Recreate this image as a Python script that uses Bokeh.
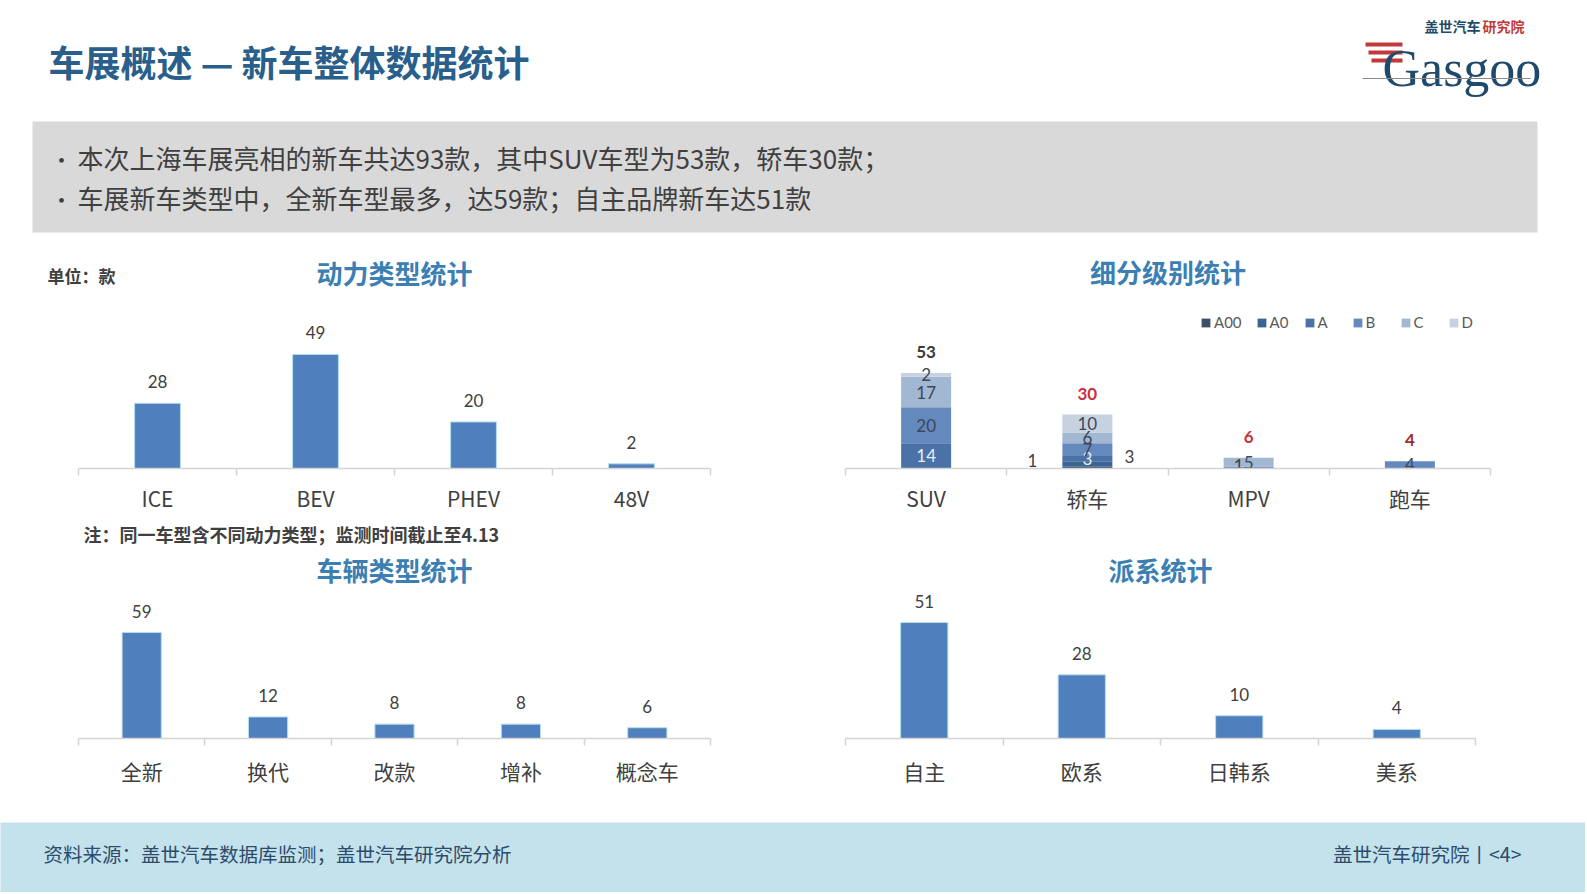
from bokeh.plotting import figure
from bokeh.layouts import column, row
from bokeh.models import (ColumnDataSource, Range1d, LinearAxis, FixedTicker,
                          LabelSet, Legend, LegendItem)
from bokeh.core.properties import value
from bokeh.embed import file_html
from bokeh.resources import INLINE

# ---------------- data ----------------
page_title = "车展概述 — 新车整体数据统计"
bullets = ["本次上海车展亮相的新车共达93款，其中SUV车型为53款，轿车30款；",
           "车展新车类型中，全新车型最多，达59款；自主品牌新车达51款"]
unit_text = "单位：款"
note_text = "注：同一车型含不同动力类型；监测时间截止至4.13"
source_text = "资料来源：盖世汽车数据库监测；盖世汽车研究院分析"
page_text = "盖世汽车研究院丨<4>"

power_title = "动力类型统计"
power_cats = ["ICE", "BEV", "PHEV", "48V"]
power_vals = [28, 49, 20, 2]

vtype_title = "车辆类型统计"
vtype_cats = ["全新", "换代", "改款", "增补", "概念车"]
vtype_vals = [59, 12, 8, 8, 6]

origin_title = "派系统计"
origin_cats = ["自主", "欧系", "日韩系", "美系"]
origin_vals = [51, 28, 10, 4]

seg_title = "细分级别统计"
seg_cats = ["SUV", "轿车", "MPV", "跑车"]
seg_series = ["A00", "A0", "A", "B", "C", "D"]
seg_A00 = [0, 1, 0, 0]
seg_A0 = [0, 3, 0, 0]
seg_A = [14, 3, 0, 0]
seg_B = [20, 7, 1, 4]
seg_C = [17, 6, 5, 0]
seg_D = [2, 10, 0, 0]

# ---------------- style ----------------
CJK = "Noto Sans CJK SC"
NUM = "Lato"
BAR = "#4f7fbc"
BAR_EDGE = "#b5ddef"
AXIS = "#d4d4d4"
TXT = "#404040"
TITLE_C = "#3b7fb3"
seg_colors = ["#3b4f66", "#3a6593", "#4a72a6", "#6489bd", "#a2b7d2", "#c6d2e0"]

LW, RW = 780, 805           # column widths
TL_B, TR_B = (78, 70), (65, 95)
BL_B, BR_B = (78, 70), (65, 110)
H_HEAD, H_ROW1, H_MID, H_ROW2, H_FOOT = 292, 226, 72, 232, 70


def frame_center(col_x, w, borders):
    return col_x + borders[0] + (w - borders[0] - borders[1]) / 2


def slots(cats):
    return [i + 0.5 for i in range(len(cats))]


def canvas(w, h, bg=None):
    p = figure(width=w, height=h, x_range=Range1d(0, w), y_range=Range1d(h, 0),
               x_axis_type=None, y_axis_type=None, output_backend="svg",
               toolbar_location=None, min_border=0)
    p.outline_line_color = None
    p.grid.visible = False
    if bg:
        p.background_fill_color = bg
        p.border_fill_color = bg
    return p


def chart(cats, w, h, y_end, borders, bottom, standoff):
    n = len(cats)
    p = figure(width=w, height=h, x_range=Range1d(0, n), y_range=Range1d(0, y_end),
               x_axis_type=None, y_axis_type=None, output_backend="svg",
               toolbar_location=None, min_border_left=borders[0],
               min_border_right=borders[1], min_border_top=0,
               min_border_bottom=bottom)
    p.outline_line_color = None
    p.grid.visible = False
    centers = slots(cats)
    ax = LinearAxis(ticker=FixedTicker(ticks=centers, minor_ticks=list(range(n + 1))),
                    major_label_overrides={c: lab for c, lab in zip(centers, cats)},
                    axis_line_color=AXIS, axis_line_width=1.5,
                    major_tick_line_color=None, major_tick_out=0, major_tick_in=0,
                    minor_tick_line_color=AXIS, minor_tick_out=7, minor_tick_in=0,
                    minor_tick_line_width=1.5,
                    major_label_standoff=standoff,
                    major_label_text_font=CJK, major_label_text_font_size="21px",
                    major_label_text_color=TXT)
    p.add_layout(ax, "below")
    return p


def simple_bars(p, cats, vals, width):
    src = ColumnDataSource(dict(pos=slots(cats), val=vals, txt=[str(v) for v in vals]))
    p.vbar(x="pos", top="val", width=width, source=src, fill_color=BAR,
           line_color=BAR_EDGE, line_width=1)
    p.add_layout(LabelSet(x="pos", y="val", text="txt", source=src,
                          text_align="center", text_baseline="bottom", y_offset=15,
                          text_font=value(NUM), text_font_size="17px", text_color=TXT))


def chart_title(p, x, y, txt):
    p.text(x=[x], y=[y], text=[txt], text_font=value(CJK), text_font_size="26px",
           text_font_style="bold", text_color=TITLE_C, text_align="center",
           text_baseline="middle")


# ---------------- header (incl. top chart titles) ----------------
header = canvas(LW + RW, H_HEAD)
header.text(x=[48], y=[60], text=[page_title], text_font=value(CJK),
            text_font_size="36px", text_font_style="bold", text_color="#2a5f8c",
            text_baseline="middle")
header.quad(left=[32], right=[1537], top=[121], bottom=[232], fill_color="#d9d9d9",
            line_color=None)
header.text(x=[50, 50], y=[157, 197], text=["•", "•"], text_font=value(CJK),
            text_font_size="22px", text_color=TXT, text_baseline="middle")
header.text(x=[77, 77], y=[157, 197], text=bullets, text_font=value(CJK),
            text_font_size="26px", text_color=TXT, text_baseline="middle")
# logo
header.quad(left=[1365, 1368, 1371], right=[1402, 1402, 1402], top=[42, 50, 58],
            bottom=[46, 54, 62], fill_color="#c0393b", line_color=None)
header.text(x=[1382], y=[68], text=["Gasgoo"], text_font=value("Liberation Serif"),
            text_font_size="52px", text_color="#1f4a6b", text_baseline="alphabetic")
header.text(x=[1424], y=[25], text=["盖世汽车"], text_font=value(CJK),
            text_font_size="14px", text_font_style="bold", text_color="#1f4a6b",
            text_baseline="middle")
header.text(x=[1482], y=[25], text=["研究院"], text_font=value(CJK),
            text_font_size="14px", text_font_style="bold", text_color="#c0393b",
            text_baseline="middle")
header.segment(x0=[1362], x1=[1530], y0=[78], y1=[78], line_color="#8a8a8a",
               line_width=1)
header.text(x=[47], y=[275], text=[unit_text], text_font=value(CJK),
            text_font_size="17px", text_font_style="bold", text_color=TXT,
            text_baseline="middle")
chart_title(header, frame_center(0, LW, TL_B), 272, power_title)
chart_title(header, frame_center(LW, RW, TR_B), 271, seg_title)

# ---------------- top-left: power types ----------------
tl = chart(power_cats, LW, H_ROW1, 75.6, TL_B, 50, 7)
simple_bars(tl, power_cats, power_vals, 0.29)

# ---------------- top-right: segments (stacked) ----------------
tr = chart(seg_cats, RW, H_ROW1, 97.8, TR_B, 50, 7)
seg_vals = {"A00": seg_A00, "A0": seg_A0, "A": seg_A, "B": seg_B, "C": seg_C, "D": seg_D}
ssrc = ColumnDataSource(dict(pos=slots(seg_cats), **seg_vals))
rs = tr.vbar_stack(seg_series, x="pos", width=0.31, source=ssrc, fill_color=seg_colors,
                   line_color=None)
leg = Legend(items=[LegendItem(label=s, renderers=[r]) for s, r in zip(seg_series, rs)],
             orientation="horizontal", location=(355, 137), glyph_width=11,
             glyph_height=11, label_standoff=3, spacing=14, padding=0, margin=0,
             label_text_font=NUM, label_text_font_size="15px",
             label_text_color="#595959", border_line_color=None,
             background_fill_alpha=0)
tr.add_layout(leg)

outside = {("轿车", "A00"): (-55, -7), ("轿车", "A0"): (42, -8), ("MPV", "B"): (-10, -2)}
lx, ly, lt, lc, lxo, lyo = [], [], [], [], [], []
for i, c in enumerate(seg_cats):
    base = 0
    for j, s in enumerate(seg_series):
        v = seg_vals[s][i]
        if v:
            lx.append(slots(seg_cats)[i])
            ly.append(base + v / 2)
            lt.append(str(v))
            off = outside.get((c, s))
            if off:
                lxo.append(off[0]); lyo.append(off[1]); lc.append(TXT)
            else:
                lxo.append(0); lyo.append(0)
                lc.append("#e9eef5" if j <= 2 else "#3c4858")
            base += v
seg_lab = ColumnDataSource(dict(x=lx, y=ly, t=lt, c=lc, xo=lxo, yo=lyo))
tr.text(x="x", y="y", text="t", x_offset="xo", y_offset="yo", text_color="c",
        source=seg_lab, text_align="center", text_baseline="middle",
        text_font=value(NUM), text_font_size="17px")
seg_tot = [sum(seg_vals[s][i] for s in seg_series) for i in range(len(seg_cats))]
tsrc = ColumnDataSource(dict(pos=slots(seg_cats), tot=seg_tot,
                             txt=[str(v) for v in seg_tot],
                             col=["#3a3a3a", "#c8323c", "#c8323c", "#a02c2c"]))
tr.add_layout(LabelSet(x="pos", y="tot", text="txt", source=tsrc, text_align="center",
                       text_baseline="bottom", y_offset=15, text_font=value(NUM),
                       text_font_size="17px", text_font_style="bold", text_color="col"))

# ---------------- middle strip: note + bottom chart titles ----------------
mid = canvas(LW + RW, H_MID)
mid.text(x=[83], y=[15], text=[note_text], text_font=value(CJK),
         text_font_size="18px", text_font_style="bold", text_color=TXT,
         text_baseline="middle")
chart_title(mid, frame_center(0, LW, BL_B), 51, vtype_title)
chart_title(mid, frame_center(LW, RW, BR_B), 51, origin_title)

# ---------------- bottom-left: vehicle types ----------------
bl = chart(vtype_cats, LW, H_ROW2, 82.4, BL_B, 84, 10)
simple_bars(bl, vtype_cats, vtype_vals, 0.31)

# ---------------- bottom-right: origin ----------------
br = chart(origin_cats, RW, H_ROW2, 65.1, BR_B, 84, 10)
simple_bars(br, origin_cats, origin_vals, 0.30)

# ---------------- footer ----------------
footer = canvas(LW + RW, H_FOOT, bg="#c3e2eb")
footer.text(x=[43], y=[31], text=[source_text], text_font=value(CJK),
            text_font_size="19.5px", text_color="#2d4b6b", text_baseline="middle")
footer.text(x=[1521], y=[31], text=[page_text], text_font=value(CJK),
            text_font_size="19.5px", text_color="#2d4b6b", text_baseline="middle",
            text_align="right")

layout = column(header, row(tl, tr), mid, row(bl, br), footer)
open("out.html", "w").write(file_html(layout, INLINE))
